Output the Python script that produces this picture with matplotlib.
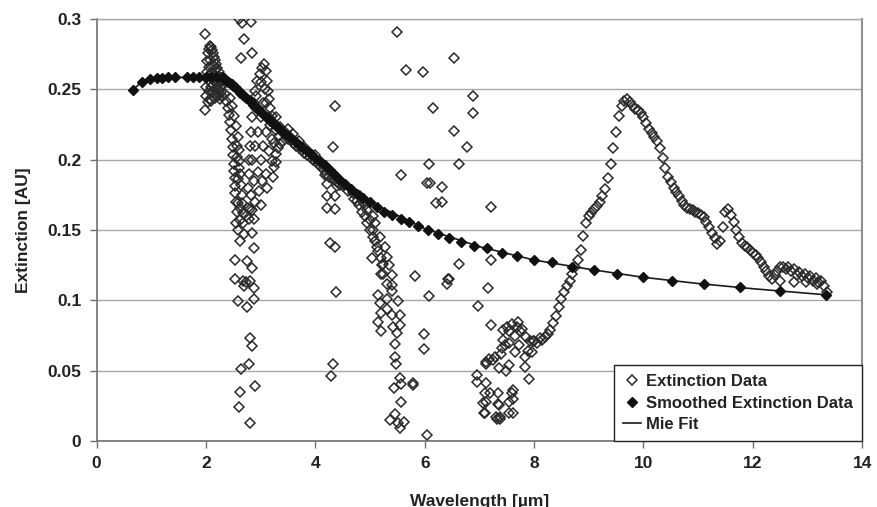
import numpy as np
import matplotlib
matplotlib.use("Agg")
import matplotlib.pyplot as plt

plt.rcParams['font.family'] = ['Liberation Sans', 'DejaVu Sans']
plt.rcParams['font.weight'] = 'bold'

# extinction data (wavelength um, extinction AU)
band_2um = [(1.98, 0.289), (1.98, 0.235), (2.00, 0.245), (2.00, 0.252), (2.01, 0.262), (2.02, 0.270),
            (2.03, 0.276), (2.05, 0.279), (2.07, 0.281), (2.09, 0.280), (2.11, 0.278), (2.13, 0.276),
            (2.15, 0.273), (2.17, 0.271), (2.19, 0.268), (2.21, 0.265), (2.23, 0.262), (2.26, 0.259),
            (2.29, 0.256), (2.32, 0.253), (2.03, 0.257), (2.05, 0.249), (2.07, 0.243), (2.09, 0.252),
            (2.11, 0.262), (2.13, 0.267), (2.15, 0.256), (2.17, 0.250), (2.19, 0.246), (2.05, 0.266),
            (2.08, 0.271), (2.10, 0.242), (2.12, 0.248), (2.14, 0.260), (2.16, 0.264), (2.18, 0.259),
            (2.20, 0.254), (2.22, 0.250), (2.24, 0.246), (2.26, 0.243), (2.04, 0.241), (2.16, 0.244),
            (2.21, 0.257), (2.25, 0.252), (2.28, 0.248), (2.30, 0.245)]
branch_2p5um = [(2.34, 0.247), (2.37, 0.242), (2.40, 0.237), (2.42, 0.232), (2.44, 0.227), (2.46, 0.221),
                (2.47, 0.215), (2.49, 0.209), (2.50, 0.203), (2.51, 0.197), (2.52, 0.192), (2.53, 0.187),
                (2.53, 0.181), (2.54, 0.176), (2.55, 0.170), (2.44, 0.244), (2.48, 0.238), (2.52, 0.231),
                (2.55, 0.224), (2.58, 0.216), (2.60, 0.207), (2.61, 0.199), (2.63, 0.190), (2.64, 0.182),
                (2.66, 0.175), (2.58, 0.186), (2.60, 0.194), (2.57, 0.202), (2.56, 0.210)]
column_2p7um = [(2.56, 0.163), (2.62, 0.166), (2.68, 0.162), (2.74, 0.160), (2.79, 0.158), (2.58, 0.169),
                (2.66, 0.169), (2.76, 0.166), (2.84, 0.164), (2.87, 0.158), (2.62, 0.157), (2.68, 0.155),
                (2.55, 0.155), (2.70, 0.147), (2.59, 0.150), (2.84, 0.148), (2.62, 0.142), (2.87, 0.137),
                (2.53, 0.129), (2.75, 0.128), (2.84, 0.123), (2.53, 0.115), (2.68, 0.114), (2.74, 0.113),
                (2.81, 0.114), (2.70, 0.110), (2.87, 0.109), (2.59, 0.0995), (2.75, 0.095), (2.87, 0.1007),
                (2.81, 0.0734), (2.84, 0.0675), (2.64, 0.0514), (2.78, 0.0545), (2.89, 0.039), (2.62, 0.0348),
                (2.60, 0.024), (2.81, 0.013),
                (2.61, 0.300), (2.65, 0.297), (2.82, 0.298), (2.70, 0.286), (2.64, 0.272), (2.84, 0.2756)]
branch_3um = [(2.76, 0.180), (2.78, 0.190), (2.79, 0.200), (2.80, 0.210), (2.82, 0.220), (2.84, 0.230),
              (2.87, 0.240), (2.90, 0.249), (2.94, 0.256), (2.98, 0.261), (3.02, 0.265), (3.06, 0.268),
              (3.09, 0.263), (3.11, 0.256), (3.13, 0.249), (3.15, 0.243), (3.18, 0.237), (3.21, 0.231),
              (3.25, 0.226), (3.29, 0.221), (3.34, 0.217), (3.40, 0.213), (2.85, 0.200), (2.90, 0.210),
              (2.95, 0.220), (3.00, 0.230), (3.04, 0.240), (3.08, 0.250), (2.88, 0.185), (2.95, 0.191),
              (3.00, 0.200), (3.05, 0.210), (3.10, 0.220), (3.15, 0.206), (3.20, 0.199), (3.25, 0.195),
              (3.29, 0.204), (3.23, 0.188), (3.29, 0.1986), (2.82, 0.175), (2.90, 0.170), (2.97, 0.178),
              (3.03, 0.185), (3.10, 0.190), (2.80, 0.165), (3.00, 0.168), (3.12, 0.180), (2.92, 0.245),
              (3.00, 0.255), (3.10, 0.240), (3.18, 0.225), (3.25, 0.212), (3.32, 0.208), (3.20, 0.215),
              (3.15, 0.230), (3.28, 0.230), (3.36, 0.211)]
curve_band = [(3.35, 0.223), (3.40, 0.219), (3.45, 0.220), (3.50, 0.215), (3.55, 0.214), (3.60, 0.212),
              (3.65, 0.210), (3.70, 0.208), (3.75, 0.207), (3.80, 0.205), (3.85, 0.203), (3.90, 0.202),
              (3.95, 0.200), (4.00, 0.199), (4.05, 0.197), (4.10, 0.195), (4.15, 0.193), (4.20, 0.190),
              (4.25, 0.188), (4.30, 0.187), (4.35, 0.186), (4.40, 0.184), (4.45, 0.182), (4.50, 0.181),
              (3.50, 0.222), (3.60, 0.218), (3.70, 0.213), (3.80, 0.209), (3.90, 0.205), (4.00, 0.203),
              (4.10, 0.198), (4.20, 0.194), (4.30, 0.190), (4.40, 0.187)]
branch_5um = [(4.51, 0.183), (4.60, 0.178), (4.69, 0.176), (4.70, 0.172), (4.76, 0.171), (4.80, 0.168),
              (4.82, 0.174), (4.85, 0.163), (4.88, 0.170), (4.90, 0.160), (4.91, 0.168), (4.94, 0.164),
              (4.95, 0.155), (5.00, 0.157), (5.00, 0.150), (5.05, 0.160), (5.05, 0.145), (5.06, 0.150),
              (5.10, 0.155), (5.10, 0.142), (5.12, 0.138), (5.15, 0.135), (5.18, 0.145), (5.20, 0.130),
              (5.22, 0.125), (5.27, 0.138), (5.03, 0.130), (5.31, 0.131), (5.24, 0.119), (5.40, 0.118),
              (5.24, 0.126), (5.34, 0.125), (5.21, 0.119), (5.31, 0.112), (5.40, 0.111), (5.40, 0.107),
              (5.15, 0.104), (5.31, 0.101), (5.52, 0.0997), (5.18, 0.098), (5.31, 0.094), (5.21, 0.091),
              (5.40, 0.0896), (5.55, 0.0896), (5.15, 0.085), (5.42, 0.081), (5.55, 0.0825), (5.21, 0.078),
              (5.49, 0.077), (5.46, 0.0687), (5.46, 0.060), (5.47, 0.055), (5.55, 0.045), (5.44, 0.038),
              (5.56, 0.0405), (5.78, 0.040), (5.56, 0.0275), (5.46, 0.0192), (5.37, 0.015), (5.51, 0.0126),
              (5.62, 0.0137), (5.55, 0.009)]
outliers = [(4.36, 0.238), (4.32, 0.209), (5.57, 0.189), (4.18, 0.189), (4.21, 0.183), (4.39, 0.181),
            (4.21, 0.174), (4.36, 0.174), (4.22, 0.166), (4.36, 0.165), (4.27, 0.1405), (4.36, 0.1377),
            (4.38, 0.106), (4.33, 0.055), (4.29, 0.046), (5.49, 0.291), (5.66, 0.264), (5.96, 0.262),
            (6.54, 0.2725), (6.88, 0.2455), (6.88, 0.2334), (6.15, 0.237), (6.54, 0.2206), (6.77, 0.2088),
            (6.07, 0.197), (6.63, 0.197), (6.05, 0.1837), (6.10, 0.1835), (6.32, 0.1808), (6.21, 0.169),
            (6.32, 0.170), (7.21, 0.1666), (7.21, 0.129), (6.63, 0.126), (5.82, 0.117), (6.43, 0.115),
            (6.40, 0.1116), (7.15, 0.109), (6.07, 0.103), (6.97, 0.0962), (5.99, 0.076), (5.99, 0.0654),
            (7.22, 0.0825), (5.79, 0.041), (6.05, 0.0043), (6.44, 0.115)]
cluster_7um = [(6.95, 0.047), (6.95, 0.0417), (7.13, 0.0564), (7.25, 0.0576), (7.10, 0.034), (7.13, 0.028),
               (7.08, 0.0197), (7.30, 0.0173), (7.37, 0.017), (7.36, 0.0256), (7.61, 0.030), (7.62, 0.0197),
               (7.62, 0.036), (7.44, 0.079), (7.50, 0.081), (7.55, 0.078), (7.71, 0.085), (7.69, 0.081),
               (7.74, 0.078), (7.86, 0.074), (7.92, 0.071), (7.98, 0.071), (7.44, 0.072), (7.47, 0.068),
               (7.42, 0.066), (7.55, 0.070), (7.83, 0.060), (7.89, 0.064), (7.97, 0.063), (7.72, 0.068),
               (7.28, 0.060), (7.13, 0.055), (7.18, 0.058), (7.35, 0.052), (7.54, 0.054), (7.83, 0.053),
               (7.91, 0.044), (7.48, 0.050), (7.12, 0.041), (7.19, 0.0343), (7.34, 0.034), (7.07, 0.0268),
               (7.34, 0.0264), (7.54, 0.028), (7.59, 0.0344), (7.10, 0.0197), (7.32, 0.016), (7.38, 0.016),
               (7.55, 0.0197), (7.65, 0.075), (7.60, 0.083), (7.78, 0.080), (7.40, 0.062), (7.65, 0.063)]
rise_9um = [(8.00, 0.071), (8.05, 0.070), (8.10, 0.073), (8.15, 0.072), (8.20, 0.074), (8.25, 0.076),
            (8.30, 0.079), (8.35, 0.084), (8.40, 0.089), (8.45, 0.095), (8.50, 0.101), (8.55, 0.106),
            (8.60, 0.110), (8.65, 0.114), (8.70, 0.119), (8.75, 0.124), (8.80, 0.129), (8.85, 0.136),
            (8.90, 0.146), (8.95, 0.155), (9.00, 0.160), (9.05, 0.162), (9.10, 0.165), (9.15, 0.167),
            (9.20, 0.170), (9.25, 0.174), (9.30, 0.179), (9.35, 0.187), (9.40, 0.197), (9.45, 0.208),
            (9.50, 0.220), (9.55, 0.231), (9.60, 0.238), (9.65, 0.242), (9.70, 0.243), (9.75, 0.241)]
tail_10um = [(9.80, 0.238), (9.85, 0.236), (9.90, 0.235), (9.95, 0.233), (10.00, 0.230), (10.05, 0.226),
             (10.10, 0.222), (10.15, 0.219), (10.20, 0.216), (10.25, 0.213), (10.30, 0.208), (10.35, 0.201),
             (10.40, 0.194), (10.45, 0.188), (10.50, 0.184), (10.55, 0.180), (10.60, 0.177), (10.65, 0.174),
             (10.70, 0.171), (10.75, 0.168), (10.80, 0.166), (10.85, 0.165), (10.90, 0.164), (10.95, 0.163),
             (11.00, 0.162), (11.05, 0.161), (11.10, 0.159), (11.15, 0.156), (11.20, 0.152), (11.25, 0.148),
             (11.30, 0.144), (11.35, 0.140), (11.40, 0.142), (11.45, 0.152), (11.50, 0.163), (11.55, 0.165),
             (11.60, 0.161), (11.65, 0.156), (11.70, 0.150), (11.75, 0.145), (11.80, 0.141), (11.85, 0.139),
             (11.90, 0.138), (11.95, 0.136), (12.00, 0.134), (12.05, 0.132), (12.10, 0.130), (12.15, 0.127),
             (12.20, 0.124), (12.25, 0.121), (12.30, 0.117), (12.35, 0.115), (12.40, 0.118), (12.45, 0.121),
             (12.50, 0.124), (12.55, 0.124), (12.60, 0.122), (12.65, 0.124), (12.70, 0.121), (12.75, 0.122),
             (12.80, 0.118), (12.85, 0.120), (12.90, 0.117), (12.95, 0.119), (13.00, 0.116), (13.05, 0.117),
             (13.10, 0.114), (13.15, 0.116), (13.20, 0.113), (13.25, 0.114), (13.30, 0.110), (13.35, 0.106),
             (12.50, 0.114), (12.75, 0.113), (12.98, 0.113), (13.18, 0.112)]

smooth_wl = [0.66, 0.83, 0.98, 1.10, 1.19, 1.31, 1.43, 1.65, 1.77, 1.88, 2.00, 2.10, 2.20,
             2.30, 2.33, 2.35, 2.38, 2.41, 2.44, 2.47, 2.50, 2.53, 2.56, 2.60, 2.63, 2.67, 2.70,
             2.74, 2.78, 2.82, 2.86, 2.90, 2.94, 2.99, 3.03, 3.08, 3.13, 3.18, 3.23, 3.28, 3.33,
             3.39, 3.45, 3.51, 3.57, 3.64, 3.70, 3.77, 3.85, 3.92, 4.00, 4.08, 4.17, 4.26, 4.35,
             4.44, 4.55, 4.65, 4.76, 4.88, 5.00, 5.13, 5.26, 5.41, 5.56, 5.71, 5.88, 6.06, 6.25,
             6.45, 6.67, 6.90, 7.14, 7.41, 7.69, 8.00, 8.33, 8.70, 9.09, 9.52, 10.00, 10.53,
             11.11, 11.76, 12.50, 13.33]
smooth_ext = [0.2495, 0.2555, 0.2575, 0.2582, 0.2584, 0.2585, 0.2585, 0.2585, 0.2585, 0.2585, 0.2587,
              0.2587, 0.2587,
              0.2585, 0.2578, 0.2570, 0.2562, 0.2553, 0.2545, 0.2535, 0.2525, 0.2515, 0.2503, 0.2490,
              0.2477, 0.2463, 0.2450, 0.2436, 0.2422, 0.2407, 0.2392, 0.2377, 0.2361, 0.2345, 0.2329,
              0.2312, 0.2295, 0.2278, 0.2260, 0.2242, 0.2224, 0.2205, 0.2186, 0.2166, 0.2146, 0.2125,
              0.2104, 0.2082, 0.2060, 0.2037, 0.2014, 0.1990, 0.1962, 0.1930, 0.1900, 0.1865, 0.1825,
              0.1790, 0.1755, 0.1725, 0.1700, 0.1666, 0.1630, 0.1607, 0.1580, 0.1560, 0.1528, 0.1500,
              0.1470, 0.1440, 0.1417, 0.1390, 0.1370, 0.1340, 0.1315, 0.1287, 0.1270, 0.1240, 0.1216,
              0.1190, 0.1164, 0.1140, 0.1116, 0.1092, 0.1064, 0.1040]

mie_wl = [0.66, 0.83, 1.0, 1.5, 2.0, 2.3, 2.5, 3.0, 3.5, 4.0, 4.5, 5.0, 6.0, 7.0, 8.0, 9.0,
          10.0, 11.0, 12.0, 13.33]
mie_ext = [0.2495, 0.2555, 0.2578, 0.2585, 0.2587, 0.2585, 0.2525, 0.2340, 0.2170, 0.2014, 0.1845,
           0.1700, 0.1510, 0.1382, 0.1287, 0.1222, 0.1164, 0.1120, 0.1083, 0.1040]

ext = np.array(band_2um + branch_2p5um + column_2p7um + branch_3um + curve_band
               + branch_5um + outliers + cluster_7um + rise_9um + tail_10um)

fig = plt.figure(figsize=(8.78, 5.07), dpi=100)
ax = fig.add_axes([0.110, 0.130, 0.872, 0.8325])

ax.plot(ext[:, 0], ext[:, 1], linestyle='none', marker='D', markersize=5.4,
        markerfacecolor='none', markeredgecolor='#2a2a2a', markeredgewidth=1.1,
        label='Extinction Data', zorder=3)
ax.plot(mie_wl, mie_ext, color='#1a1a1a', linewidth=1.2, label='Mie Fit', zorder=4)
ax.plot(smooth_wl, smooth_ext, linestyle='none', marker='D', markersize=5.2,
        color='#111111', label='Smoothed Extinction Data', zorder=5)

ax.set_xlim(0, 14)
ax.set_ylim(0, 0.3)
ax.set_xticks(range(0, 15, 2))
ax.set_yticks([0, 0.05, 0.1, 0.15, 0.2, 0.25, 0.3])
ax.set_yticklabels(['0', '0.05', '0.1', '0.15', '0.2', '0.25', '0.3'])
ax.yaxis.grid(True, color='#a8a8a8', linewidth=1.0)
ax.set_axisbelow(True)

for side in ['left', 'bottom']:
    ax.spines[side].set_color('#707070')
    ax.spines[side].set_linewidth(1.2)
ax.spines['right'].set_color('#909090')
ax.spines['right'].set_linewidth(1.5)
ax.spines['top'].set_color('#a8a8a8')
ax.spines['top'].set_linewidth(1.0)

ax.tick_params(axis='both', direction='out', length=5, width=1, color='#707070',
               labelsize=12.5, labelcolor='#222222', pad=6)
for lab in ax.get_xticklabels() + ax.get_yticklabels():
    lab.set_fontweight('bold')

ax.set_xlabel('Wavelength [µm]', fontsize=12.5, fontweight='bold', color='#222222', labelpad=16)
ax.set_ylabel('Extinction [AU]', fontsize=12.5, fontweight='bold', color='#222222', labelpad=12)

handles, labels = ax.get_legend_handles_labels()
order = [0, 2, 1]
leg = ax.legend([handles[i] for i in order], [labels[i] for i in order],
                loc='lower right', bbox_to_anchor=(1.0, 0.0), fancybox=False, framealpha=1,
                edgecolor='#222222', borderaxespad=0, handlelength=1.1, handletextpad=0.3,
                borderpad=0.55, labelspacing=0.38, prop={'weight': 'bold', 'size': 12})
leg.get_frame().set_linewidth(1.0)
for t in leg.get_texts():
    t.set_color('#222222')

fig.savefig('out.png', dpi=100)
